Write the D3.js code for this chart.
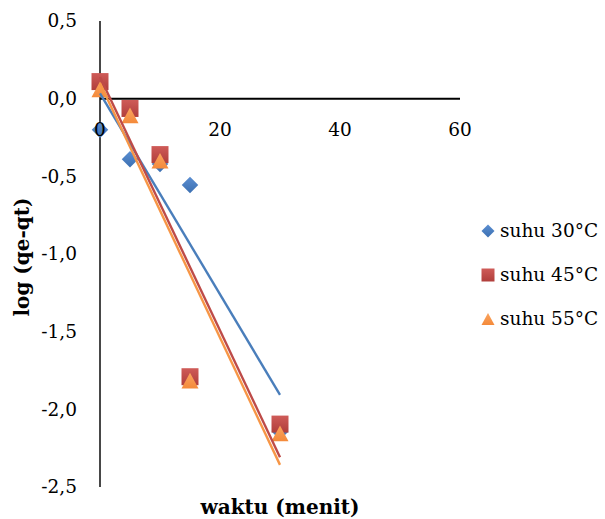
<!DOCTYPE html>
<html>
<head>
<meta charset="utf-8">
<script src="https://cdn.jsdelivr.net/npm/d3@7"></script>
<style>
  html, body { margin: 0; padding: 0; background: #fff; }
  svg { display: block; }
  text { font-family: "DejaVu Serif", "Liberation Serif", serif; fill: #000; }
</style>
</head>
<body>
<svg id="chart" width="605" height="519"></svg>
<script>
// Sampling times (minutes)
const waktu = [0, 5, 10, 15, 30];

// log(qe - qt) for each temperature
const suhu30 = [-0.20, -0.39, -0.42, -0.555, -2.145];
const suhu45 = [0.11, -0.063, -0.36, -1.79, -2.095];
const suhu55 = [0.06, -0.108, -0.40, -1.815, -2.155];

const seriesNames = ["suhu 30°C", "suhu 45°C", "suhu 55°C"];
const xTicks = [0, 20, 40, 60];
const yTicks = [0.5, 0.0, -0.5, -1.0, -1.5, -2.0, -2.5];

const series = [
  { name: seriesNames[0], values: suhu30, shape: "diamond", fill: ["#5B8ED1", "#3C70B2"], line: "#4A7EBB" },
  { name: seriesNames[1], values: suhu45, shape: "square",  fill: ["#CF5B58", "#B03E3B"], line: "#BE4B48" },
  { name: seriesNames[2], values: suhu55, shape: "triangle", fill: ["#FAA460", "#F48A3A"], line: "#F79646" }
];

const svg = d3.select("#chart");
const x = d3.scaleLinear().domain([0, 60]).range([100, 460]);
const y = d3.scaleLinear().domain([-2.5, 0.5]).range([487, 21]);
const fmt = v => d3.format(".1f")(v).replace(".", ",").replace("−", "-");

// gradients for the marker fills
const defs = svg.append("defs");
series.forEach((s, i) => {
  const g = defs.append("linearGradient").attr("id", "grad" + i)
    .attr("x1", 0).attr("y1", 0).attr("x2", 0).attr("y2", 1);
  g.append("stop").attr("offset", "0%").attr("stop-color", s.fill[0]);
  g.append("stop").attr("offset", "100%").attr("stop-color", s.fill[1]);
});

function markerPath(shape, size) {
  const h = size / 2;
  if (shape === "diamond") return `M0,${-h}L${h},0L0,${h}L${-h},0Z`;
  if (shape === "square") return `M${-h},${-h}H${h}V${h}H${-h}Z`;
  return `M0,${-h * 0.92}L${h},${h * 0.92}L${-h},${h * 0.92}Z`;
}

// axes crossing at the origin
const axisG = svg.append("g");
axisG.append("line")
  .attr("x1", x(0)).attr("x2", x(0)).attr("y1", y(0.5)).attr("y2", y(-2.5))
  .attr("stroke", "#1a1a1a").attr("stroke-width", 1.6);
axisG.append("line")
  .attr("x1", x(0)).attr("x2", x(60)).attr("y1", y(0)).attr("y2", y(0))
  .attr("stroke", "#000").attr("stroke-width", 2);

// markers
const sizes = { diamond: 16.5, square: 17, triangle: 17 };
series.forEach((s, i) => {
  svg.append("g").selectAll("path")
    .data(s.values.map((v, j) => ({ t: waktu[j], v })))
    .join("path")
    .attr("d", markerPath(s.shape, sizes[s.shape]))
    .attr("transform", d => `translate(${x(d.t)},${y(d.v)})`)
    .attr("fill", `url(#grad${i})`);
});

// linear trend lines (least squares) over the sampled range
series.forEach(s => {
  const n = waktu.length;
  const mx = d3.mean(waktu), my = d3.mean(s.values);
  let sxy = 0, sxx = 0;
  for (let j = 0; j < n; j++) {
    sxy += (waktu[j] - mx) * (s.values[j] - my);
    sxx += (waktu[j] - mx) ** 2;
  }
  const slope = sxy / sxx, icpt = my - slope * mx;
  const x0 = d3.min(waktu), x1 = d3.max(waktu);
  svg.append("line")
    .attr("x1", x(x0)).attr("y1", y(icpt + slope * x0))
    .attr("x2", x(x1)).attr("y2", y(icpt + slope * x1))
    .attr("stroke", s.line).attr("stroke-width", 2.4);
});

// tick labels
svg.append("g").selectAll("text").data(yTicks).join("text")
  .attr("x", 77).attr("y", d => y(d)).attr("dy", "0.35em")
  .attr("text-anchor", "end").attr("font-size", 18.5)
  .text(d => fmt(d));

svg.append("g").selectAll("text").data(xTicks).join("text")
  .attr("x", d => x(d)).attr("y", y(0) + 31).attr("dy", "0.35em")
  .attr("text-anchor", "middle").attr("font-size", 18.5)
  .text(d => d);

// axis titles
svg.append("text")
  .attr("x", 280).attr("y", 507).attr("dy", "0.35em")
  .attr("text-anchor", "middle").attr("font-size", 20).attr("font-weight", "bold")
  .text("waktu (menit)");
svg.append("text")
  .attr("transform", "translate(22,257) rotate(-90)").attr("dy", "0.35em")
  .attr("text-anchor", "middle").attr("font-size", 20).attr("font-weight", "bold")
  .text("log (qe-qt)");

// legend
const legendSizes = { diamond: 13, square: 13, triangle: 13 };
const legend = svg.append("g").selectAll("g").data(series).join("g")
  .attr("transform", (d, i) => `translate(488,${231 + i * 44})`);
legend.append("path")
  .attr("d", d => markerPath(d.shape, legendSizes[d.shape]))
  .attr("fill", (d, i) => `url(#grad${i})`);
legend.append("text")
  .attr("x", 12).attr("y", 0).attr("dy", "0.35em")
  .attr("font-size", 18.5)
  .text(d => d.name);
</script>
</body>
</html>
